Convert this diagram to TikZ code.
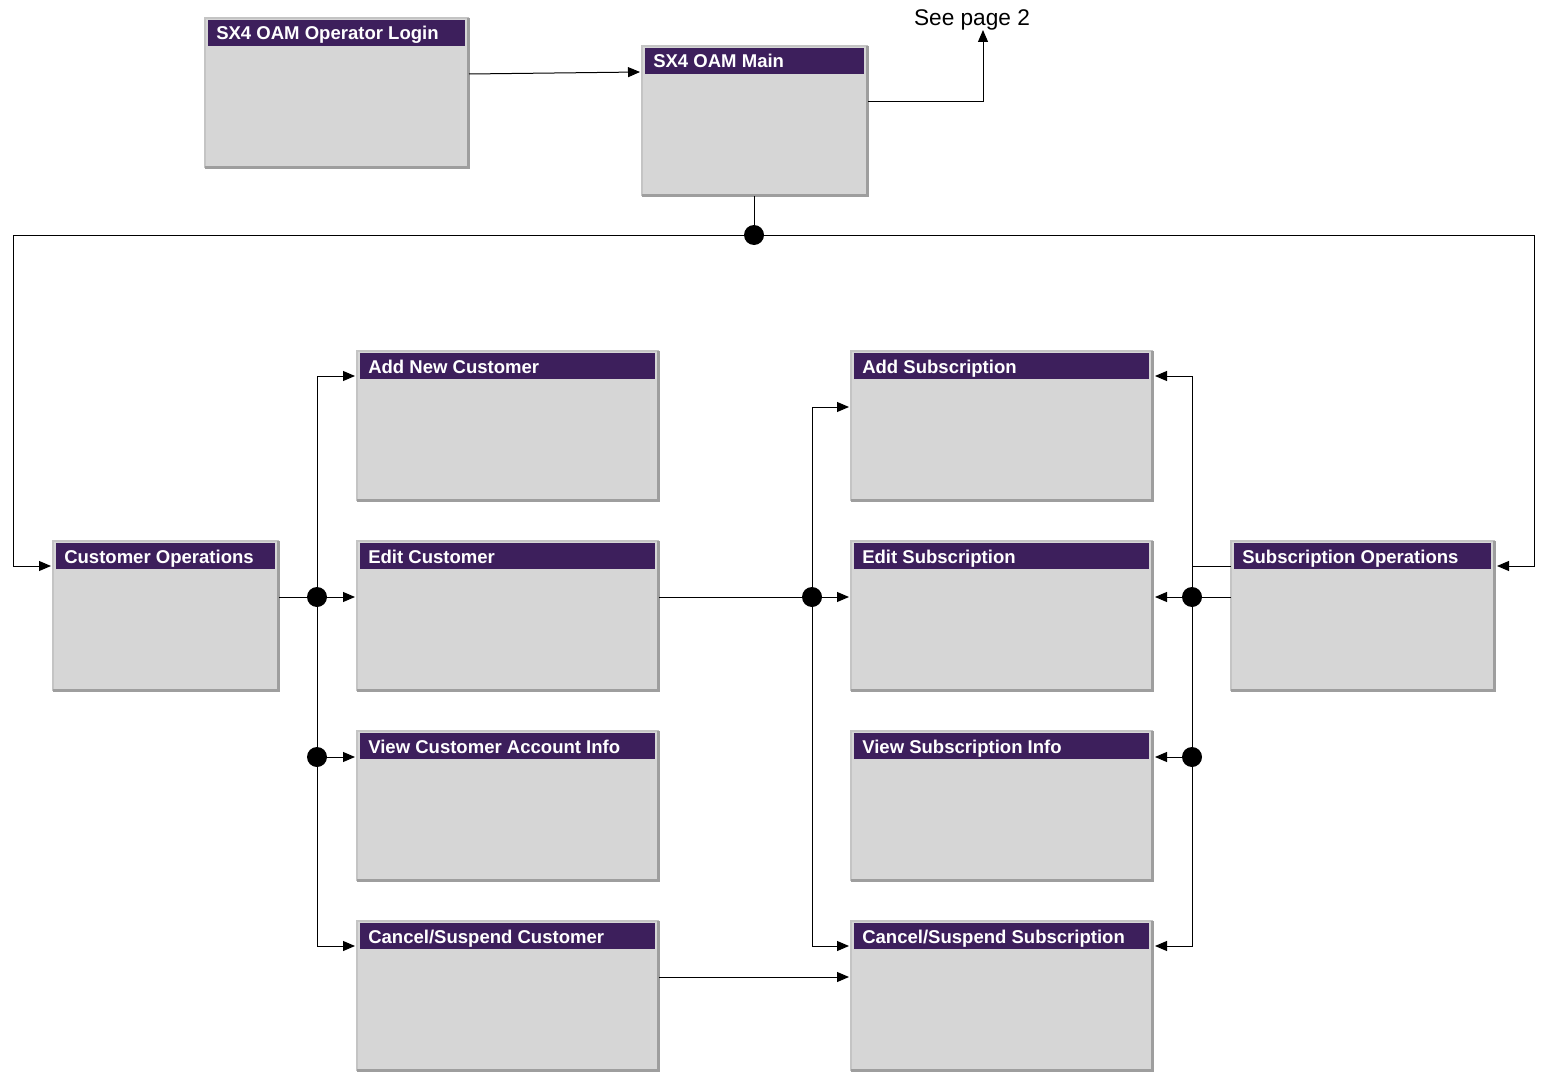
\documentclass[tikz,border=0pt]{standalone}
\usepackage{fontspec}
\setmainfont{Liberation Sans}
\usetikzlibrary{calc,arrows.meta}

\definecolor{bodygray}{HTML}{D6D6D6}
\definecolor{hdrpurple}{HTML}{3D1F5C}
\definecolor{edgedark}{HTML}{9E9E9E}
\definecolor{edgelight}{HTML}{C4C4C4}

\tikzset{
  screenbody/.style={rectangle, fill=bodygray, draw=none, inner sep=0pt, outer sep=0pt},
  hdrtext/.style={anchor=base west, inner sep=0pt, text=white,
    font=\fontsize{13.9}{16}\selectfont\bfseries},
  wire/.style={draw=black, line width=0.75pt},
  arr/.style={wire, -{Triangle[length=9pt,width=7.5pt]}, shorten >=1.5pt},
  dot/.style={circle, fill=black, inner sep=0pt, minimum size=15pt},
}

% screen box: name, left, top, right, bottom, title
\newcommand{\screenbox}[6]{%
  \node[screenbody, anchor=north west,
        minimum width={(#4-#2)*0.75pt}, minimum height={(#5-#3)*0.75pt}]
        (#1) at (#2,#3) {};
  \draw[edgelight, line width=1pt] (#1.south west) -- (#1.north west) -- (#1.north east);
  \draw[edgedark, line width=2pt] ($(#1.north east)+(-0.7,0)$) -- ($(#1.south east)+(-0.7,-0.7)$)
        -- ($(#1.south west)+(0,-0.7)$);
  \fill[hdrpurple] ($(#1.north west)+(3,2)$) rectangle ($(#1.north east)+(-4,28)$);
  \node[hdrtext] (#1-title) at ($(#1.north west)+(11,22)$) {#6};
}

\begin{document}
\begin{tikzpicture}[x=0.75pt, y=-0.75pt]
  \useasboundingbox (0,0) rectangle (1543,1074);

  % screens
  \screenbox{login}{205}{18}{469}{168}{SX4 OAM Operator Login}
  \screenbox{main}{642}{46}{868}{196}{SX4 OAM Main}
  \screenbox{custops}{53}{541}{279}{691}{Customer Operations}
  \screenbox{addcust}{357}{351}{659}{501}{Add New Customer}
  \screenbox{editcust}{357}{541}{659}{691}{Edit Customer}
  \screenbox{viewcust}{357}{731}{659}{881}{View Customer Account Info}
  \screenbox{cancust}{357}{921}{659}{1071}{Cancel/Suspend Customer}
  \screenbox{addsub}{851}{351}{1153}{501}{Add Subscription}
  \screenbox{editsub}{851}{541}{1153}{691}{Edit Subscription}
  \screenbox{viewsub}{851}{731}{1153}{881}{View Subscription Info}
  \screenbox{cansub}{851}{921}{1153}{1071}{Cancel/Suspend Subscription}
  \screenbox{subops}{1231}{541}{1495}{691}{Subscription Operations}

  % off-page reference
  \node[inner sep=0pt, anchor=base, font=\fontsize{17}{20}\selectfont] (seepage) at (972,26) {See page 2};

  % junction points
  \node[dot] (topdot) at (754,235) {};
  \node[dot] (cdot1) at (317,597) {};
  \node[dot] (cdot2) at (317,757) {};
  \node[dot] (mdot) at (812,597) {};
  \node[dot] (sdot1) at (1192,597) {};
  \node[dot] (sdot2) at (1192,757) {};

  \coordinate (lg) at (469,74);
  \coordinate (mn) at (640,72);
  \coordinate (mo) at (868,102);
  \coordinate (pg) at (983,102);
  \coordinate (pgtip) at (983,30);
  \coordinate (busL) at (13,235);
  \coordinate (busR) at (1534,235);
  \coordinate (ctop) at (317,376);
  \coordinate (cbot) at (317,946);
  \coordinate (mtop) at (812,407);
  \coordinate (mbot) at (812,946);
  \coordinate (cc) at (659,977);
  \coordinate (stop) at (1192,376);
  \coordinate (sbot) at (1192,946);
  \coordinate (sj) at (1192,566);

  % login to main, main to page 2
  \draw[arr, shorten >=0pt] (login.east |- lg) -- (mn);
  \draw[arr, shorten >=0pt] (main.east |- mo) -- (pg) -- (pgtip);

  % main bus
  \draw[wire] (topdot |- main.south) -- (topdot);
  \draw[arr] (topdot.center) -- (busL) |- ($(custops.north west)+(0,25)$);
  \draw[arr] (topdot.center) -- (busR) |- ($(subops.north east)+(0,25)$);

  % customer branch
  \draw[wire] (custops.east |- cdot1) -- (cdot1);
  \draw[arr] (cdot1) -- (editcust.west |- cdot1);
  \draw[arr] (cdot1.center) |- (addcust.west |- ctop);
  \draw[arr] (cdot1.center) |- (cancust.west |- cbot);
  \draw[arr] (cdot2) -- (viewcust.west |- cdot2);

  % customer to subscription
  \draw[wire] (editcust.east |- mdot) -- (mdot);
  \draw[arr] (mdot) -- (editsub.west |- mdot);
  \draw[arr] (mdot.center) |- (addsub.west |- mtop);
  \draw[arr] (mdot.center) |- (cansub.west |- mbot);
  \draw[arr] (cancust.east |- cc) -- (cansub.west |- cc);

  % subscription branch
  \draw[wire] (subops.west |- sdot1) -- (sdot1);
  \draw[wire] (subops.west |- sj) -- (sj);
  \draw[arr] (sdot1) -- (editsub.east |- sdot1);
  \draw[arr] (sdot1.center) |- (addsub.east |- stop);
  \draw[arr] (sdot1.center) |- (cansub.east |- sbot);
  \draw[arr] (sdot2) -- (viewsub.east |- sdot2);
\end{tikzpicture}
\end{document}
